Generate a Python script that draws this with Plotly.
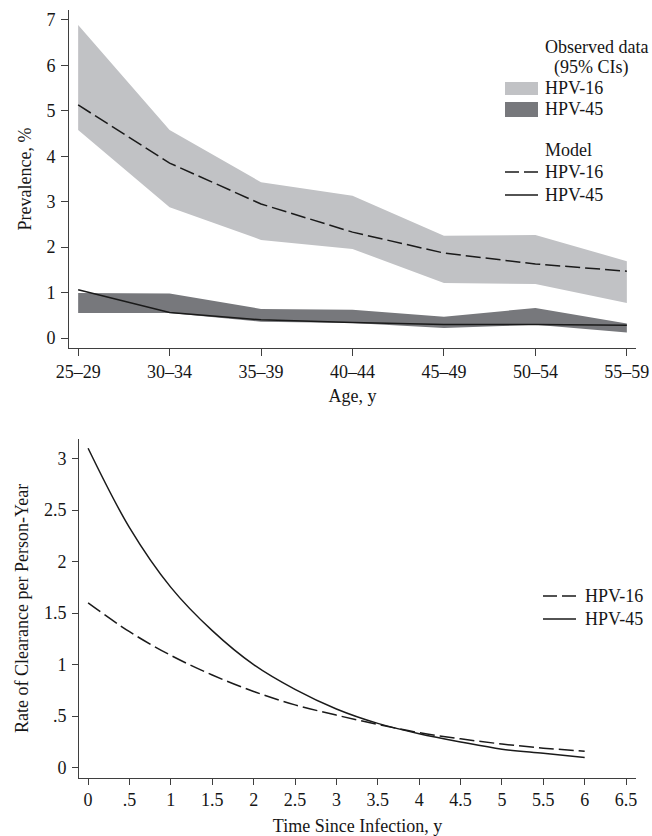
import plotly.graph_objects as go

# ---------------- data ----------------
age_groups = ["25–29", "30–34", "35–39", "40–44", "45–49", "50–54", "55–59"]

obs16_upper = [6.89, 4.58, 3.43, 3.13, 2.25, 2.27, 1.69]
obs16_lower = [4.58, 2.88, 2.16, 1.96, 1.21, 1.19, 0.77]
obs45_upper = [0.99, 0.98, 0.64, 0.62, 0.47, 0.66, 0.32]
obs45_lower = [0.55, 0.55, 0.36, 0.33, 0.22, 0.29, 0.12]
model16_prev = [5.13, 3.85, 2.95, 2.33, 1.87, 1.63, 1.47]
model45_prev = [1.06, 0.56, 0.40, 0.34, 0.30, 0.30, 0.28]

time_years = [0, 0.5, 1, 1.5, 2, 2.5, 3, 3.5, 4, 4.5, 5, 5.5, 6]
clear16 = [1.60, 1.32, 1.09, 0.90, 0.74, 0.61, 0.51, 0.42, 0.34, 0.28, 0.23, 0.19, 0.16]
clear45 = [3.10, 2.33, 1.75, 1.33, 1.00, 0.76, 0.57, 0.43, 0.33, 0.25, 0.18, 0.14, 0.10]

top_yticks = [0, 1, 2, 3, 4, 5, 6, 7]
bot_yticks = [0, 0.5, 1, 1.5, 2, 2.5, 3]
bot_yticklabels = ["0", ".5", "1", "1.5", "2", "2.5", "3"]
bot_xticks = [0, 0.5, 1, 1.5, 2, 2.5, 3, 3.5, 4, 4.5, 5, 5.5, 6, 6.5]
bot_xticklabels = ["0", ".5", "1", "1.5", "2", "2.5", "3", "3.5", "4", "4.5", "5", "5.5", "6", "6.5"]

# ---------------- style ----------------
W, H = 652, 836
FONT = "Liberation Serif, Times New Roman, serif"
TXT = "#161616"
AX = "#3f3f3f"
LIGHT = "#c1c2c5"
DARK = "#77787c"
LINE = "#1a1a1a"
DASH = "15px,5px"
FS = 18

def px(x):
    return x / W

def py(y):
    return 1 - y / H

fig = go.Figure()

# top chart bands
fig.add_trace(go.Scatter(x=age_groups, y=obs16_lower, mode="lines", line=dict(width=0, color=LIGHT),
                         showlegend=False, hoverinfo="skip", xaxis="x", yaxis="y"))
fig.add_trace(go.Scatter(x=age_groups, y=obs16_upper, mode="lines", line=dict(width=0, color=LIGHT),
                         fill="tonexty", fillcolor=LIGHT, showlegend=False, xaxis="x", yaxis="y"))
fig.add_trace(go.Scatter(x=age_groups, y=obs45_lower, mode="lines", line=dict(width=0, color=DARK),
                         showlegend=False, hoverinfo="skip", xaxis="x", yaxis="y"))
fig.add_trace(go.Scatter(x=age_groups, y=obs45_upper, mode="lines", line=dict(width=0, color=DARK),
                         fill="tonexty", fillcolor=DARK, showlegend=False, xaxis="x", yaxis="y"))
# top model lines
fig.add_trace(go.Scatter(x=age_groups, y=model16_prev, mode="lines",
                         line=dict(width=1.5, color=LINE, dash=DASH), showlegend=False, xaxis="x", yaxis="y"))
fig.add_trace(go.Scatter(x=age_groups, y=model45_prev, mode="lines",
                         line=dict(width=1.5, color=LINE), showlegend=False, xaxis="x", yaxis="y"))

# bottom chart
fig.add_trace(go.Scatter(x=time_years, y=clear16, mode="lines", line_shape="spline",
                         line=dict(width=1.5, color=LINE, dash=DASH), showlegend=False, xaxis="x2", yaxis="y2"))
fig.add_trace(go.Scatter(x=time_years, y=clear45, mode="lines", line_shape="spline",
                         line=dict(width=1.5, color=LINE), showlegend=False, xaxis="x2", yaxis="y2"))

axis_common = dict(showgrid=False, zeroline=False, showline=True, linecolor=AX, linewidth=1,
                   ticks="outside", ticklen=7, tickcolor=AX, tickwidth=1, automargin=False,
                   tickfont=dict(family=FONT, size=FS, color=TXT),
                   title_font=dict(family=FONT, size=FS, color=TXT))

top_dom_x = [px(69), px(636)]
top_dom_y = [py(348), py(10)]
bot_dom_x = [px(79), px(636)]
bot_dom_y = [py(777.7), py(439)]

fig.update_layout(
    template="none",
    width=W, height=H,
    margin=dict(l=0, r=0, t=0, b=0, pad=0),
    paper_bgcolor="white", plot_bgcolor="white",
    font=dict(family=FONT, size=FS, color=TXT),
    xaxis=dict(axis_common, domain=top_dom_x, anchor="y", type="category",
               range=[-0.1, 6.1], title=dict(text="Age, y", standoff=8)),
    yaxis=dict(axis_common, domain=top_dom_y, anchor="x", range=[-0.22, 7.22],
               tickvals=top_yticks, title=dict(text="Prevalence, %", standoff=10),
               ticklabelstandoff=2),
    xaxis2=dict(axis_common, domain=bot_dom_x, anchor="y2", range=[-0.11, 6.62],
                tickvals=bot_xticks, ticktext=bot_xticklabels, ticklen=6,
                title=dict(text="Time Since Infection, y", standoff=12)),
    yaxis2=dict(axis_common, domain=bot_dom_y, anchor="x2", range=[-0.097, 3.19],
                tickvals=bot_yticks, ticktext=bot_yticklabels, ticklen=6,
                title=dict(text="Rate of Clearance per Person-Year", standoff=10),
                ticklabelstandoff=2),
)

# ---------------- manual legends ----------------
shapes = []
annots = []

def text(x, y, s, anchor="left"):
    annots.append(dict(x=px(x), y=py(y), xref="paper", yref="paper", text=s, showarrow=False,
                       xanchor=anchor, yanchor="middle",
                       font=dict(family=FONT, size=FS, color=TXT)))

def rect(x0, y0, x1, y1, color):
    shapes.append(dict(type="rect", xref="paper", yref="paper", x0=px(x0), x1=px(x1),
                       y0=py(y1), y1=py(y0), fillcolor=color, line=dict(width=0)))

def hline(x0, x1, y, dash=None):
    shapes.append(dict(type="line", xref="paper", yref="paper", x0=px(x0), x1=px(x1),
                       y0=py(y), y1=py(y), line=dict(color=LINE, width=1.5,
                                                     dash=dash if dash else "solid")))

text(596, 47, "Observed data", "center")
text(591, 68, "(95% CIs)", "center")
rect(505, 82, 538, 95, LIGHT)
text(543, 88, "HPV-16")
rect(505, 102, 538, 117, DARK)
text(543, 109, "HPV-45")
text(543, 150, "Model")
hline(505, 538, 172, "14px,5px")
text(543, 172, "HPV-16")
hline(505, 538, 195)
text(543, 195, "HPV-45")

hline(543, 576, 596, "14px,5px")
text(583, 596, "HPV-16")
hline(543, 576, 619)
text(583, 619, "HPV-45")

fig.update_layout(shapes=shapes, annotations=annots)

fig.write_html(
    "out.html",
    config={"displayModeBar": False},
    post_script=("document.body.style.margin='0';"
                 "document.body.style.overflow='hidden';"
                 "document.documentElement.style.overflow='hidden';"),
)
